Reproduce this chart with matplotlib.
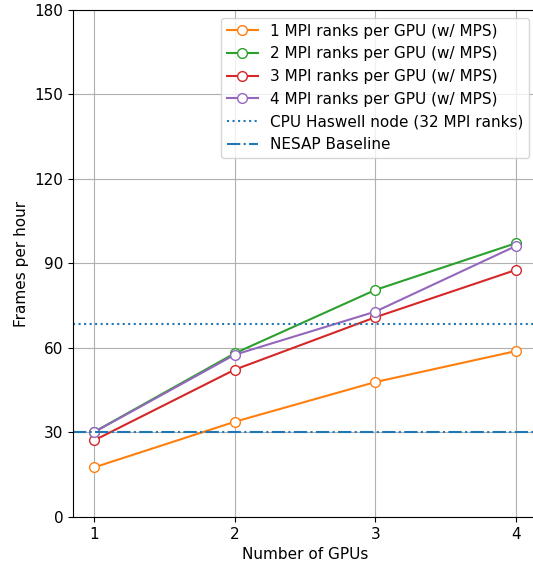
import matplotlib
matplotlib.use('Agg')
import matplotlib.pyplot as plt

plt.rcParams['font.size'] = 11

# data
gpus = [1, 2, 3, 4]
fps_1rank = [17.6, 33.8, 47.9, 58.9]
fps_2rank = [30.2, 58.1, 80.6, 97.2]
fps_3rank = [27.2, 52.3, 70.9, 87.7]
fps_4rank = [30.1, 57.6, 72.9, 96.2]
cpu_haswell = 68.4
nesap_baseline = 30.0

series = [
    ('1 MPI ranks per GPU (w/ MPS)', fps_1rank, 'C1'),
    ('2 MPI ranks per GPU (w/ MPS)', fps_2rank, 'C2'),
    ('3 MPI ranks per GPU (w/ MPS)', fps_3rank, 'C3'),
    ('4 MPI ranks per GPU (w/ MPS)', fps_4rank, 'C4'),
]

fig = plt.figure(figsize=(5.33, 5.66), dpi=100)
ax = fig.add_axes([0.137, 0.0866, 0.8705, 0.8958])

for label, vals, col in series:
    ax.plot(gpus, vals, '-o', color=col, markerfacecolor='white',
            markeredgecolor=col, markersize=7, label=label)

ax.axhline(cpu_haswell, linestyle=':', color='C0', label='CPU Haswell node (32 MPI ranks)')
ax.axhline(nesap_baseline, linestyle='-.', color='C0', label='NESAP Baseline')

ax.set_xlim(0.85, 4.15)
ax.set_ylim(0, 180)
ax.set_xticks(gpus)
ax.set_yticks(range(0, 181, 30))
ax.set_xlabel('Number of GPUs')
ax.set_ylabel('Frames per hour')
ax.grid(True)
ax.legend(loc='upper right')

fig.savefig('out.png', dpi=100)
